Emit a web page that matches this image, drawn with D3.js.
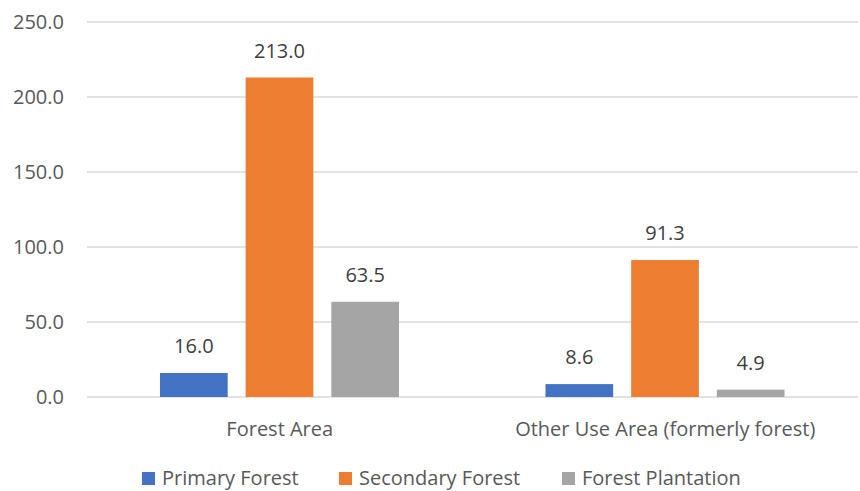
<!DOCTYPE html>
<html><head><meta charset="utf-8">
<script src="https://cdn.jsdelivr.net/npm/d3@7"></script>
<style>body{margin:0;background:#fff}svg{display:block}text{font-family:"Open Sans",Lato,sans-serif}</style>
</head><body><svg id="c" width="860" height="491"></svg>
<script>
const categories = ["Forest Area", "Other Use Area (formerly forest)"];
const seriesNames = ["Primary Forest", "Secondary Forest", "Forest Plantation"];
const primary = [16.0, 8.6];
const secondary = [213.0, 91.3];
const plantation = [63.5, 4.9];
const yTicks = [0, 50, 100, 150, 200, 250];
const colors = ["#4472C4", "#ED7D31", "#A5A5A5"];

const seriesVals = [primary, secondary, plantation];
const svg = d3.select("#c");
const FS = 20;
const y = d3.scaleLinear().domain([0, 250]).range([397, 22]);
const x0 = d3.scaleBand().domain(categories).range([87, 858]).paddingInner(0).paddingOuter(0);
const x1 = d3.scaleBand().domain(seriesNames).range([73, 312]).paddingInner(0.21).paddingOuter(0);

svg.append("g").selectAll("line").data(yTicks).join("line")
  .attr("x1", 87).attr("x2", 858).attr("y1", d => y(d)).attr("y2", d => y(d))
  .attr("stroke", "#D9D9D9").attr("stroke-width", 1.5);

svg.append("g").selectAll("text").data(yTicks).join("text")
  .attr("x", 64).attr("y", d => y(d)).attr("dy", "0.35em").attr("text-anchor", "end")
  .attr("fill", "#595959").attr("font-size", FS).text(d => d.toFixed(1));

const g = svg.append("g");
categories.forEach((c, ci) => {
  seriesNames.forEach((s, si) => {
    const v = seriesVals[si][ci];
    const bx = x0(c) + x1(s);
    g.append("rect").attr("x", bx).attr("y", y(v)).attr("width", x1.bandwidth())
      .attr("height", y(0) - y(v)).attr("fill", colors[si]);
    g.append("text").attr("x", bx + x1.bandwidth() / 2).attr("y", y(v) - 20)
      .attr("text-anchor", "middle").attr("fill", "#404040").attr("font-size", FS)
      .text(v.toFixed(1));
  });
  svg.append("text").attr("x", x0(c) + x0.bandwidth() / 2).attr("y", 436)
    .attr("text-anchor", "middle").attr("fill", "#595959").attr("font-size", FS).text(c);
});

const legendX = [142, 339, 562];
const lg = svg.append("g");
seriesNames.forEach((s, i) => {
  lg.append("rect").attr("x", legendX[i]).attr("y", 472).attr("width", 13).attr("height", 13).attr("fill", colors[i]);
  lg.append("text").attr("x", legendX[i] + 20).attr("y", 485).attr("fill", "#595959").attr("font-size", FS).text(s);
});
</script></body></html>
